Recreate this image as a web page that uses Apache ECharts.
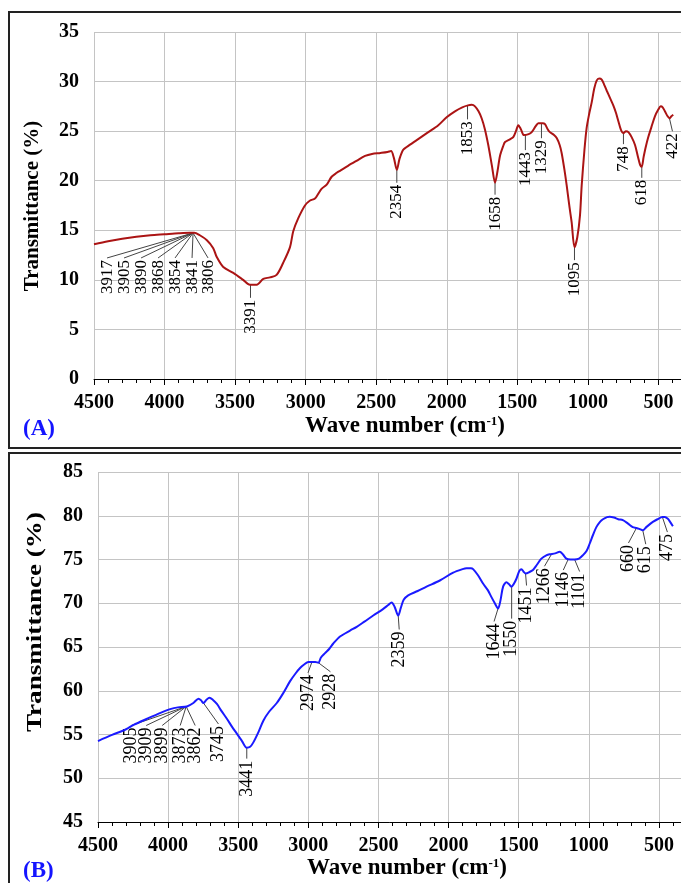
<!DOCTYPE html>
<html>
<head>
<meta charset="utf-8">
<script src="https://cdn.jsdelivr.net/npm/echarts@6/dist/echarts.min.js"></script>
<style>
  html, body { margin: 0; padding: 0; background: #fff; }
  #chart { width: 681px; height: 883px; }
</style>
</head>
<body>
<div id="chart"></div>
<script>
// spectrum (A)
const waveA = [4500, 4400, 4300, 4200, 4100, 4000, 3900, 3820, 3790, 3750,
  3700, 3655, 3630, 3584, 3513, 3443, 3395, 3347, 3300, 3253,
  3206, 3160, 3111, 3088, 3053, 3005, 2969, 2934, 2910, 2886,
  2851, 2816, 2780, 2757, 2700, 2640, 2579, 2530, 2470, 2420,
  2395, 2375, 2354, 2335, 2310, 2284, 2213, 2131, 2060, 2001,
  1942, 1890, 1850, 1823, 1800, 1775, 1753, 1730, 1706, 1680,
  1658, 1640, 1623, 1600, 1587, 1550, 1529, 1510, 1493, 1475,
  1453, 1420, 1398, 1370, 1351, 1320, 1304, 1285, 1269, 1240,
  1221, 1200, 1186, 1165, 1150, 1130, 1115, 1095, 1075, 1056,
  1044, 1025, 1009, 990, 973, 955, 938, 920, 902, 885,
  867, 845, 820, 800, 784, 765, 749, 730, 713, 690,
  666, 645, 630, 619, 605, 590, 572, 550, 525, 500,
  484, 470, 454, 435, 422, 408, 395]
const transA = [13.6, 13.9, 14.15, 14.35, 14.5, 14.6, 14.7, 14.75, 14.75, 14.5,
  14.0, 13.2, 12.3, 11.3, 10.7, 10.0, 9.5, 9.5, 10.1, 10.25,
  10.5, 11.7, 13.3, 14.9, 16.2, 17.5, 18.0, 18.2, 18.7, 19.2,
  19.6, 20.4, 20.8, 21.0, 21.5, 22.0, 22.5, 22.7, 22.8, 22.9,
  23.0, 22.3, 21.1, 22.2, 23.1, 23.4, 24.1, 24.9, 25.6, 26.4,
  27.0, 27.4, 27.6, 27.65, 27.5, 27.0, 26.3, 25.2, 23.6, 21.5,
  19.8, 21.0, 22.5, 23.5, 23.9, 24.2, 24.4, 25.0, 25.6, 25.2,
  24.6, 24.7, 24.9, 25.5, 25.8, 25.8, 25.7, 25.2, 24.9, 24.6,
  24.3, 23.6, 22.8, 21.0, 19.5, 17.3, 15.8, 13.3, 14.3, 16.5,
  19.5, 23.0, 25.3, 26.8, 27.9, 29.3, 30.1, 30.3, 30.2, 29.7,
  29.1, 28.4, 27.6, 26.8, 26.0, 25.1, 24.8, 25.0, 24.9, 24.4,
  23.6, 22.4, 21.6, 21.4, 22.4, 23.4, 24.4, 25.4, 26.5, 27.2,
  27.5, 27.4, 27.0, 26.5, 26.3, 26.5, 26.65]

// spectrum (B)
const waveB = [4500, 4400, 4300, 4246, 4150, 4050, 3985, 3930, 3866, 3820,
  3783, 3765, 3748, 3725, 3705, 3680, 3652, 3620, 3581, 3545,
  3510, 3475, 3439, 3415, 3392, 3355, 3320, 3280, 3225, 3180,
  3130, 3090, 3059, 3030, 3000, 2974, 2950, 2928, 2910, 2881,
  2850, 2822, 2774, 2700, 2655, 2600, 2537, 2470, 2430, 2406,
  2385, 2359, 2340, 2320, 2288, 2220, 2157, 2062, 1967, 1900,
  1872, 1840, 1825, 1790, 1754, 1720, 1694, 1670, 1647, 1630,
  1611, 1587, 1570, 1552, 1535, 1516, 1495, 1480, 1465, 1450,
  1420, 1398, 1370, 1338, 1300, 1278, 1240, 1207, 1185, 1160,
  1130, 1101, 1070, 1041, 1015, 994, 970, 946, 920, 899,
  870, 851, 820, 790, 757, 720, 686, 660, 640, 615,
  590, 560, 543, 510, 475, 459, 436, 420, 400]
const transB = [54.25, 54.95, 55.6, 56.1, 56.8, 57.5, 57.9, 58.1, 58.2, 58.6,
  59.1, 58.9, 58.6, 59.0, 59.2, 58.95, 58.5, 57.7, 56.8, 55.9,
  55.1, 54.3, 53.5, 53.6, 54.1, 55.3, 56.6, 57.6, 58.6, 59.7,
  61.1, 62.0, 62.6, 63.0, 63.3, 63.3, 63.3, 63.2, 63.8, 64.3,
  64.8, 65.4, 66.2, 66.9, 67.3, 67.9, 68.6, 69.3, 69.8, 70.1,
  69.6, 68.6, 69.5, 70.4, 70.9, 71.4, 71.9, 72.6, 73.5, 73.9,
  74.0, 74.0, 73.9, 73.2, 72.25, 71.5, 70.7, 70.0, 69.4, 70.3,
  71.9, 72.4, 72.2, 71.9, 72.2, 72.8, 73.7, 73.9, 73.6, 73.4,
  73.6, 73.8, 74.4, 75.1, 75.5, 75.6, 75.7, 75.9, 75.6, 75.1,
  75.0, 75.0, 75.1, 75.5, 76.0, 76.8, 77.8, 78.7, 79.3, 79.6,
  79.85, 79.9, 79.8, 79.6, 79.5, 79.1, 78.7, 78.6, 78.5, 78.35,
  78.7, 79.1, 79.3, 79.6, 79.85, 79.85, 79.65, 79.3, 78.8]

// peak labels and the curve point each leader line starts from
const peakLabelsA = ['3917', '3905', '3890', '3868', '3854', '3841', '3806', '3391', '2354',
  '1853', '1658', '1443', '1329', '1095', '748', '618', '422']
const peakPointsA = [[3798, 14.73], [3798, 14.73], [3798, 14.73], [3798, 14.73], [3798, 14.73],
  [3798, 14.73], [3798, 14.73], [3391, 9.5], [2354, 21.1], [1853, 27.6], [1658, 19.8],
  [1443, 24.6], [1329, 25.8], [1095, 13.3], [748, 24.8], [618, 21.4], [422, 26.3]]
const peakLabelsB = ['3905', '3909', '3899', '3873', '3862', '3745', '3441', '2974', '2928',
  '2359', '1644', '1550', '1451', '1266', '1146', '1101', '660', '615', '475']
const peakPointsB = [[3871, 58.2], [3871, 58.2], [3871, 58.2], [3871, 58.2], [3871, 58.2],
  [3748, 58.6], [3439, 53.5], [2974, 63.3], [2928, 63.2], [2359, 68.6], [1647, 69.4],
  [1550, 71.9], [1451, 73.4], [1266, 75.6], [1146, 75.05], [1101, 75.0], [660, 78.6],
  [615, 78.35], [475, 79.85]]

// label placement (px from the curve point to the top of the rotated text)
const labelOffsetA = [[-86, 27], [-69, 27], [-52, 27], [-35, 27], [-18, 27], [-1, 27], [15, 27],
  [0, 15], [0, 15], [0, 16], [0, 14], [0, 17], [0, 17], [0, 15], [0, 13], [0, 13], [3, 15]]
const labelOffsetB = [[-55, 21], [-40, 21], [-24, 21], [-6, 21], [9, 21], [15, 23], [0, 13],
  [-4, 13], [12, 11], [1, 16], [-4, 15], [0, 34], [1, 14], [-7, 14], [-5, 13], [5, 14],
  [-8, 17], [3, 16], [5, 17]]

const serif = "'Liberation Serif', 'Times New Roman', serif"

function peakRenderer(labels, offsets, fontSize) {
  return function (params, api) {
    let i = params.dataIndex
    let p = api.coord([api.value(0), api.value(1)])
    let lx = p[0] + offsets[i][0]
    let ly = p[1] + offsets[i][1]
    return {
      type: 'group',
      children: [
        {
          type: 'line',
          shape: { x1: p[0], y1: p[1], x2: lx, y2: ly - 2 },
          style: { stroke: '#444', lineWidth: 1 }
        },
        {
          type: 'text',
          x: lx,
          y: ly,
          rotation: Math.PI / 2,
          style: {
            text: labels[i],
            font: fontSize + 'px ' + serif,
            fill: '#000',
            align: 'right',
            verticalAlign: 'middle'
          }
        }
      ]
    }
  }
}

function xAxisFor(gridIndex, gap) {
  return {
    gridIndex: gridIndex,
    type: 'value',
    inverse: true,
    min: 0,
    max: 4500,
    interval: 500,
    name: '{n|Wave number (cm}{s|-1}{n|)}',
    nameLocation: 'middle',
    nameGap: gap,
    nameTextStyle: {
      padding: [0, 13, 0, 0],
      rich: {
        n: { fontFamily: serif, fontWeight: 'bold', fontSize: 23, color: '#000' },
        s: { fontFamily: serif, fontWeight: 'bold', fontSize: 13, color: '#000', verticalAlign: 'top' }
      }
    },
    axisLine: { show: true, onZero: false, lineStyle: { color: '#000', width: 1 } },
    axisTick: { show: true, length: 6, lineStyle: { color: '#000' } },
    minorTick: { show: true, splitNumber: 5, length: 4, lineStyle: { color: '#000' } },
    axisLabel: {
      margin: 14,
      fontFamily: serif,
      fontWeight: 'bold',
      fontSize: 20,
      color: '#000',
      formatter: v => (v === 0 ? '' : v)
    },
    splitLine: { show: true, lineStyle: { color: '#c4c4c4', width: 1 } }
  }
}

function yAxisFor(gridIndex, min, max) {
  return {
    gridIndex: gridIndex,
    type: 'value',
    min: min,
    max: max,
    interval: 5,
    axisLine: { show: true, lineStyle: { color: '#000', width: 1 } },
    axisTick: { show: true, length: 6, lineStyle: { color: '#000' } },
    minorTick: { show: true, splitNumber: 5, length: 4, lineStyle: { color: '#000' } },
    axisLabel: {
      margin: 15,
      fontFamily: serif,
      fontWeight: 'bold',
      fontSize: 20,
      color: '#000'
    },
    splitLine: { show: true, lineStyle: { color: '#c4c4c4', width: 1 } }
  }
}

let chart = echarts.init(document.getElementById('chart'))
chart.setOption({
  animation: false,
  backgroundColor: '#fff',
  grid: [
    { left: 94, top: 32, right: -48, height: 347, outerBoundsMode: 'none' },
    { left: 98, top: 472, right: -48, height: 350, outerBoundsMode: 'none' }
  ],
  xAxis: [xAxisFor(0, 36), xAxisFor(1, 34)],
  yAxis: [yAxisFor(0, 0, 35), yAxisFor(1, 45, 85)],
  graphic: [
    // panel frames
    { type: 'rect', shape: { x: 9, y: 12, width: 700, height: 436 }, style: { fill: 'none', stroke: '#222', lineWidth: 2 } },
    { type: 'rect', shape: { x: 9, y: 453, width: 700, height: 440 }, style: { fill: 'none', stroke: '#222', lineWidth: 2 } },
    // y axis titles
    {
      type: 'text', x: 33, y: 206, rotation: Math.PI / 2,
      style: { text: 'Transmittance (%)', font: 'bold 21px ' + serif, fill: '#000', align: 'center', verticalAlign: 'middle' }
    },
    {
      type: 'text', x: 36, y: 622, rotation: Math.PI / 2, scaleX: 1.29,
      style: { text: 'Transmittance (%)', font: 'bold 21px ' + serif, fill: '#000', align: 'center', verticalAlign: 'middle' }
    },
    // panel letters
    { type: 'text', x: 23, y: 429, style: { text: '(A)', font: 'bold 23px ' + serif, fill: '#1414ff', align: 'left', verticalAlign: 'middle' } },
    { type: 'text', x: 23, y: 871, style: { text: '(B)', font: 'bold 23px ' + serif, fill: '#1414ff', align: 'left', verticalAlign: 'middle' } }
  ],
  series: [
    {
      name: 'A',
      type: 'line',
      xAxisIndex: 0,
      yAxisIndex: 0,
      data: waveA.map((w, i) => [w, transA[i]]),
      showSymbol: false,
      smooth: 0.3,
      lineStyle: { color: '#ab1414', width: 2 }
    },
    {
      name: 'B',
      type: 'line',
      xAxisIndex: 1,
      yAxisIndex: 1,
      data: waveB.map((w, i) => [w, transB[i]]),
      showSymbol: false,
      smooth: 0.3,
      lineStyle: { color: '#1a1aff', width: 2 }
    },
    {
      name: 'peaksA',
      type: 'custom',
      xAxisIndex: 0,
      yAxisIndex: 0,
      data: peakPointsA,
      renderItem: peakRenderer(peakLabelsA, labelOffsetA, 17)
    },
    {
      name: 'peaksB',
      type: 'custom',
      xAxisIndex: 1,
      yAxisIndex: 1,
      data: peakPointsB,
      renderItem: peakRenderer(peakLabelsB, labelOffsetB, 18)
    }
  ]
})
</script>
</body>
</html>
